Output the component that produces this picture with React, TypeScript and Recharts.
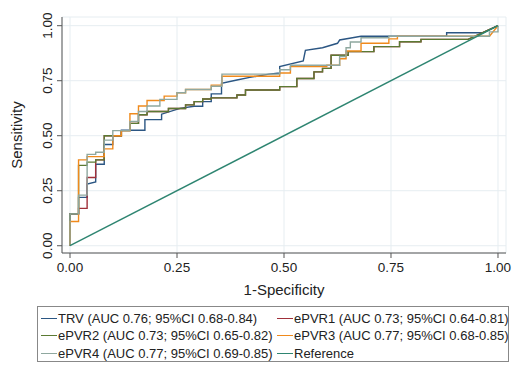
import React from 'react';
import { LineChart, Line, XAxis, YAxis, CartesianGrid } from 'recharts';

const xTicks = [0, 0.25, 0.5, 0.75, 1];
const yTicks = [0, 0.25, 0.5, 0.75, 1];

const trvPoints: [number, number][] = [
  [0, 0], [0, 0.145], [0.02, 0.145], [0.02, 0.22], [0.04, 0.22], [0.04, 0.28], [0.06, 0.29],
  [0.06, 0.37], [0.08, 0.37], [0.08, 0.46], [0.1, 0.46], [0.1, 0.5], [0.12, 0.5], [0.12, 0.525],
  [0.175, 0.525], [0.175, 0.573], [0.214, 0.573], [0.214, 0.598], [0.257, 0.624], [0.29, 0.634],
  [0.31, 0.634], [0.31, 0.655], [0.33, 0.655], [0.33, 0.69], [0.354, 0.69], [0.354, 0.738],
  [0.39, 0.753], [0.42, 0.765], [0.465, 0.78], [0.49, 0.785], [0.49, 0.814], [0.545, 0.84],
  [0.55, 0.888], [0.59, 0.9], [0.625, 0.92], [0.63, 0.935], [0.66, 0.945], [0.68, 0.952],
  [0.88, 0.952], [0.88, 0.968], [0.965, 0.968], [1, 1],
];

const epvr2Points: [number, number][] = [
  [0, 0], [0, 0.145], [0.02, 0.145], [0.02, 0.365], [0.04, 0.365], [0.04, 0.38], [0.06, 0.38],
  [0.06, 0.39], [0.08, 0.39], [0.08, 0.5], [0.12, 0.5], [0.12, 0.523], [0.14, 0.523], [0.14, 0.556],
  [0.16, 0.556], [0.16, 0.595], [0.18, 0.595], [0.18, 0.61], [0.23, 0.61], [0.23, 0.624],
  [0.27, 0.624], [0.27, 0.64], [0.29, 0.64], [0.29, 0.655], [0.31, 0.655], [0.31, 0.667],
  [0.33, 0.667], [0.33, 0.672], [0.39, 0.672], [0.39, 0.685], [0.41, 0.685], [0.41, 0.708],
  [0.49, 0.708], [0.49, 0.723], [0.53, 0.723], [0.53, 0.76], [0.57, 0.76], [0.57, 0.79],
  [0.59, 0.79], [0.59, 0.806], [0.61, 0.806], [0.61, 0.866], [0.65, 0.866], [0.65, 0.882],
  [0.71, 0.882], [0.71, 0.905], [0.77, 0.905], [0.77, 0.927], [0.82, 0.927], [0.82, 0.938],
  [0.93, 0.938], [1, 1],
];

const epvr1Points: [number, number][] = [
  [0, 0], [0, 0.145], [0.02, 0.145], [0.02, 0.17], [0.04, 0.17], [0.04, 0.31], [0.06, 0.31],
  [0.06, 0.39], [0.08, 0.39], [0.08, 0.5], [0.12, 0.5], [0.12, 0.523], [0.14, 0.523], [0.14, 0.556],
  [0.16, 0.556], [0.16, 0.595], [0.18, 0.595], [0.18, 0.61], [0.23, 0.61], [0.23, 0.624],
  [0.27, 0.624], [0.27, 0.64], [0.29, 0.64], [0.29, 0.655], [0.31, 0.655], [0.31, 0.667],
  [0.33, 0.667], [0.33, 0.672], [0.39, 0.672], [0.39, 0.685], [0.41, 0.685], [0.41, 0.708],
  [0.49, 0.708], [0.49, 0.723], [0.53, 0.723], [0.53, 0.76], [0.57, 0.76], [0.57, 0.79],
  [0.59, 0.79], [0.59, 0.806], [0.61, 0.806], [0.61, 0.866], [0.65, 0.866], [0.65, 0.882],
  [0.71, 0.882], [0.71, 0.905], [0.77, 0.905], [0.77, 0.927], [0.82, 0.927], [0.82, 0.938],
  [0.93, 0.938], [1, 1],
];

const epvr3Points: [number, number][] = [
  [0, 0], [0, 0.11], [0.02, 0.11], [0.02, 0.39], [0.04, 0.39], [0.04, 0.405], [0.08, 0.405],
  [0.08, 0.44], [0.1, 0.44], [0.1, 0.5], [0.12, 0.5], [0.12, 0.523], [0.14, 0.523], [0.14, 0.6],
  [0.16, 0.6], [0.16, 0.635], [0.18, 0.635], [0.18, 0.66], [0.22, 0.66], [0.22, 0.68],
  [0.25, 0.68], [0.25, 0.695], [0.27, 0.695], [0.27, 0.71], [0.33, 0.71], [0.33, 0.73],
  [0.355, 0.73], [0.355, 0.77], [0.49, 0.77], [0.49, 0.785], [0.515, 0.785], [0.515, 0.814],
  [0.6, 0.814], [0.6, 0.82], [0.63, 0.82], [0.63, 0.85], [0.645, 0.85], [0.645, 0.885],
  [0.68, 0.885], [0.68, 0.92], [0.745, 0.92], [0.745, 0.94], [0.765, 0.94], [0.765, 0.952],
  [0.98, 0.952], [1, 1],
];

const epvr4Points: [number, number][] = [
  [0, 0], [0, 0.145], [0.02, 0.145], [0.02, 0.23], [0.04, 0.23], [0.04, 0.415], [0.06, 0.415],
  [0.06, 0.425], [0.08, 0.425], [0.08, 0.48], [0.1, 0.48], [0.1, 0.523], [0.14, 0.523],
  [0.14, 0.565], [0.16, 0.565], [0.16, 0.61], [0.18, 0.61], [0.18, 0.635], [0.21, 0.635],
  [0.21, 0.665], [0.25, 0.665], [0.25, 0.695], [0.27, 0.695], [0.27, 0.71], [0.33, 0.71],
  [0.33, 0.725], [0.355, 0.725], [0.355, 0.78], [0.49, 0.78], [0.49, 0.8], [0.515, 0.8],
  [0.515, 0.82], [0.63, 0.82], [0.63, 0.86], [0.645, 0.86], [0.645, 0.9], [0.655, 0.9],
  [0.655, 0.926], [0.68, 0.926], [0.68, 0.945], [0.745, 0.945], [0.745, 0.952], [0.98, 0.952],
  [0.98, 0.972], [1, 0.972], [1, 1],
];

const referencePoints: [number, number][] = [[0, 0], [1, 1]];

const seriesLabels = [
  'TRV (AUC 0.76; 95%CI 0.68-0.84)',
  'ePVR1 (AUC 0.73; 95%CI 0.64-0.81)',
  'ePVR2 (AUC 0.73; 95%CI 0.65-0.82)',
  'ePVR3 (AUC 0.77; 95%CI 0.68-0.85)',
  'ePVR4 (AUC 0.77; 95%CI 0.69-0.85)',
  'Reference',
];

const seriesColors = ['#2b5683', '#a0303a', '#5b7a33', '#f08a1c', '#8fa89f', '#2e8571'];

const allPoints = [trvPoints, epvr1Points, epvr2Points, epvr3Points, epvr4Points, referencePoints];

const FONT = '"Liberation Sans", Arial, Helvetica, sans-serif';

const toData = (pts: [number, number][]) => pts.map(([x, y]) => ({ x, y }));

const YTick = (props: any) => {
  const { x, y, payload } = props;
  const cx = x - 3;
  return (
    <text x={cx} y={y} transform={`rotate(-90 ${cx} ${y})`} textAnchor="middle" fontSize={13.5} fill="#222" fontFamily={FONT}>
      {Number(payload.value).toFixed(2)}
    </text>
  );
};

const XTick = (props: any) => {
  const { x, y, payload } = props;
  return (
    <text x={x} y={y + 12} textAnchor="middle" fontSize={13.5} fill="#222" fontFamily={FONT}>
      {Number(payload.value).toFixed(2)}
    </text>
  );
};

const XTitle = (props: any) => {
  const { viewBox } = props;
  const cx = viewBox.x + viewBox.width / 2;
  return (
    <text x={cx} y={295} textAnchor="middle" fontSize={15} fill="#222" fontFamily={FONT}>
      1-Specificity
    </text>
  );
};

const YTitle = (props: any) => {
  const { viewBox } = props;
  const cy = viewBox.y + viewBox.height / 2;
  const cx = 22;
  return (
    <text x={cx} y={cy} transform={`rotate(-90 ${cx} ${cy})`} textAnchor="middle" fontSize={15} fill="#222" fontFamily={FONT}>
      Sensitivity
    </text>
  );
};

const legendOrder = [
  [0, 1],
  [2, 3],
  [4, 5],
];

export default function App() {
  return (
    <div style={{ position: 'absolute', left: 0, top: 0, width: 512, height: 365, background: '#fff', fontFamily: FONT }}>
      <LineChart width={512} height={300} margin={{ top: 17, right: 6, bottom: 17, left: 0 }}>
        <CartesianGrid stroke="#e6edf1" strokeWidth={1} horizontalPoints={undefined} />
        <XAxis
          type="number"
          dataKey="x"
          domain={[-0.0187, 1.0187]}
          ticks={xTicks}
          height={30}
          tick={<XTick />}
          tickSize={5}
          axisLine={{ stroke: '#555' }}
          tickLine={{ stroke: '#555' }}
          label={<XTitle />}
          allowDataOverflow
        />
        <YAxis
          type="number"
          domain={[-0.033, 1.0395]}
          ticks={yTicks}
          width={62}
          tick={<YTick />}
          tickSize={5}
          axisLine={{ stroke: '#555' }}
          tickLine={{ stroke: '#555' }}
          label={<YTitle />}
          allowDataOverflow
        />
        {allPoints.map((pts, i) => (
          <Line
            key={i}
            data={toData(pts)}
            dataKey="y"
            type="linear"
            stroke={seriesColors[i]}
            strokeWidth={1.4}
            dot={false}
            activeDot={false}
            isAnimationActive={false}
          />
        ))}
      </LineChart>
      <div style={{ position: 'absolute', left: 37, top: 306, width: 472, height: 56, border: '1px solid #888', boxSizing: 'border-box' }}>
        {legendOrder.map((row, r) =>
          row.map((si, c) => (
            <div key={si} style={{ position: 'absolute', left: c === 0 ? 3 : 239, top: 3 + r * 17.3, height: 17, display: 'flex', alignItems: 'center', whiteSpace: 'nowrap' }}>
              <div style={{ width: 16, height: 0, borderTop: `1.5px solid ${seriesColors[si]}`, marginRight: 1 }} />
              <span style={{ fontSize: 13, color: '#222' }}>{seriesLabels[si]}</span>
            </div>
          ))
        )}
      </div>
    </div>
  );
}
